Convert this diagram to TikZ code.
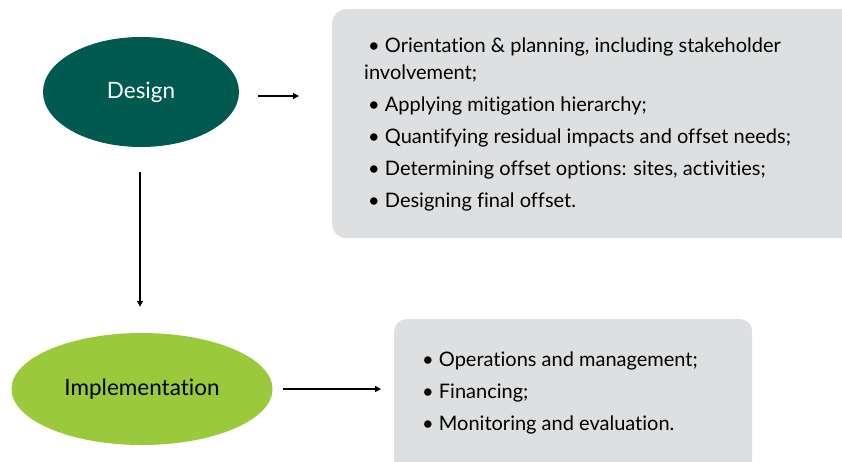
\documentclass[tikz,border=0pt]{standalone}
\usepackage{fontspec}
\setmainfont{Lato}[RawFeature={-liga}]
\usetikzlibrary{shapes.geometric,arrows.meta}
\definecolor{teal}{HTML}{005A50}
\definecolor{lime}{HTML}{9BC93C}
\definecolor{boxgray}{HTML}{DEDFE0}
\tikzset{
  x=1pt,y=1pt,
  phase/.style={ellipse, draw=none, inner sep=0pt, font=\fontsize{22.5}{26}\selectfont},
  panel/.style={rectangle, rounded corners=14pt, fill=boxgray, draw=none, anchor=north west, inner sep=0pt},
  item/.style={anchor=base west, inner sep=0pt, font=\fontsize{20}{24}\selectfont},
  conn/.style={-{Triangle[length=6pt,width=6pt]}, line width=1.3pt, black},
}
\begin{document}
\begin{tikzpicture}
\useasboundingbox (0,0) rectangle (842,-461);
% panels
\node[panel, minimum width=530pt, minimum height=229pt] (top) at (332,-9) {};
\node[panel, rounded corners=12pt, minimum width=358pt, minimum height=170pt] (bot) at (394,-319) {};
% ellipses
\node[phase, fill=teal, text=white, minimum width=196pt, minimum height=110pt] (design) at (141,-92) {Design};
\node[phase, fill=lime, text=black, minimum width=261pt, minimum height=112pt] (impl) at (142,-389) {Implementation};
% top items
\node[item] (t1) at (368,-52) {• Orientation \& planning, including stakeholder};
\node[item] (t1b) at (364,-79) {involvement;};
\node[item] (t2) at (368,-111) {• Applying mitigation hierarchy;};
\node[item] (t3) at (368,-143) {• Quantifying residual impacts and offset needs;};
\node[item] (t4) at (368,-175) {• Determining offset options: sites, activities;};
\node[item] (t5) at (368,-207) {• Designing final offset.};
% bottom items
\node[item] (b1) at (422,-366) {• Operations and management;};
\node[item] (b2) at (422,-398) {• Financing;};
\node[item] (b3) at (422,-430) {• Monitoring and evaluation.};
% connectors
\coordinate (a1s) at (258,-96);
\coordinate (a1e) at (299,-96);
\draw[conn] (a1s) -- (a1e);
\draw[conn] ([yshift=-25pt]design.south -| 140,0) -- ([yshift=26pt]impl.north -| 140,0);
\coordinate (a3s) at (283,-389);
\coordinate (a3e) at (381,-389);
\draw[conn] (a3s) -- (a3e);
\end{tikzpicture}
\end{document}
